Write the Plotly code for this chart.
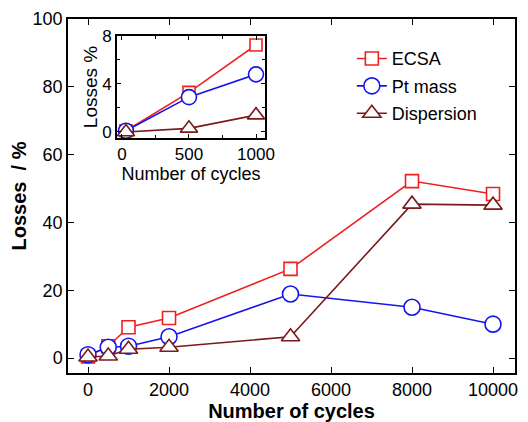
import plotly.graph_objects as go

# Main plot data
cycles = [0, 500, 1000, 2000, 5000, 8000, 10000]
ecsa = [0.5, 3.5, 9.1, 11.8, 26.3, 52.2, 48.4]
pt_mass = [1.0, 3.2, 3.5, 6.3, 18.9, 15.0, 10.0]
dispersion = [0.3, 0.6, 2.6, 3.2, 6.3, 45.4, 45.1]
x_ticks = [0, 2000, 4000, 6000, 8000, 10000]
x_ticklabels = ["0", "2000", "4000", "6000", "8000", "10000"]
y_ticks = [0, 20, 40, 60, 80, 100]

# Inset data
inset_cycles = [30, 500, 1000]
inset_ecsa = [0.1, 3.3, 7.25]
inset_pt = [0.1, 2.9, 4.8]
inset_disp = [0.0, 0.3, 1.4]
inset_x_ticks = [0, 500, 1000]
inset_y_ticks = [0, 4, 8]

RED = "#f02020"
BLUE = "#1515ee"
MAROON = "#7a1a1a"
FONT = "Liberation Sans, Arial, sans-serif"

names = ["ECSA", "Pt mass", "Dispersion"]
colors = [RED, BLUE, MAROON]
symbols = ["square", "circle", "triangle-up"]
sizes = [13, 16, 16]
main_vals = [ecsa, pt_mass, dispersion]
inset_vals = [inset_ecsa, inset_pt, inset_disp]

fig = go.Figure()
for n, c, s, sz, v in zip(names, colors, symbols, sizes, main_vals):
    fig.add_trace(go.Scatter(
        x=cycles, y=v, mode="lines+markers", name=n, legendgroup=n,
        line=dict(color=c, width=1.6),
        marker=dict(symbol=s, size=sz, color="white", line=dict(color=c, width=1.6)),
        xaxis="x", yaxis="y"))
for n, c, s, sz, v in zip(names, colors, symbols, sizes, inset_vals):
    fig.add_trace(go.Scatter(
        x=inset_cycles, y=v, mode="lines+markers", name=n, showlegend=False,
        line=dict(color=c, width=1.6),
        marker=dict(symbol=s, size=sz - 1, color="white", line=dict(color=c, width=1.6)),
        xaxis="x2", yaxis="y2"))

axis_common = dict(showline=True, linecolor="black", linewidth=1.5, mirror="ticks",
                   ticks="inside", tickcolor="black", showgrid=False, zeroline=False,
                   automargin=False)

fig.update_layout(
    width=520, height=414,
    margin=dict(l=60, r=13, t=11, b=49),
    paper_bgcolor="white", plot_bgcolor="white",
    font=dict(family=FONT, color="black", size=16),
    showlegend=True,
    legend=dict(x=0.635, y=0.94, xanchor="left", yanchor="top",
                bgcolor="rgba(0,0,0,0)", font=dict(size=18, family=FONT),
                tracegroupgap=1, traceorder="grouped"),
    xaxis=dict(domain=[0, 1], range=[-494, 10543], tickvals=x_ticks, ticktext=x_ticklabels,
               ticklen=6, tickfont=dict(size=18),
               title=dict(text="<b>Number of cycles</b>", font=dict(size=20), standoff=0),
               **axis_common),
    yaxis=dict(domain=[0, 1], range=[-4.4, 100], tickvals=y_ticks,
               ticklen=6, tickfont=dict(size=18),
               title=dict(text="<b>Losses&nbsp;&nbsp;/ %</b>", font=dict(size=20), standoff=6),
               **axis_common),
    xaxis2=dict(domain=[0.1096, 0.4407], anchor="y2", range=[-37, 1067],
                tickvals=inset_x_ticks, ticklen=4, tickfont=dict(size=17),
                minor=dict(ticks="inside", tickvals=[250, 750], ticklen=3, tickcolor="black"),
                title=dict(text="Number of cycles", font=dict(size=18), standoff=0),
                **axis_common),
    yaxis2=dict(domain=[0.664, 0.952], anchor="x2", range=[-0.5, 8],
                tickvals=inset_y_ticks, ticklen=4, tickfont=dict(size=17),
                minor=dict(ticks="inside", tickvals=[2, 6], ticklen=3, tickcolor="black"),
                title=dict(text="Losses %", font=dict(size=19), standoff=0),
                **axis_common),
)

fig.write_html("out.html")
